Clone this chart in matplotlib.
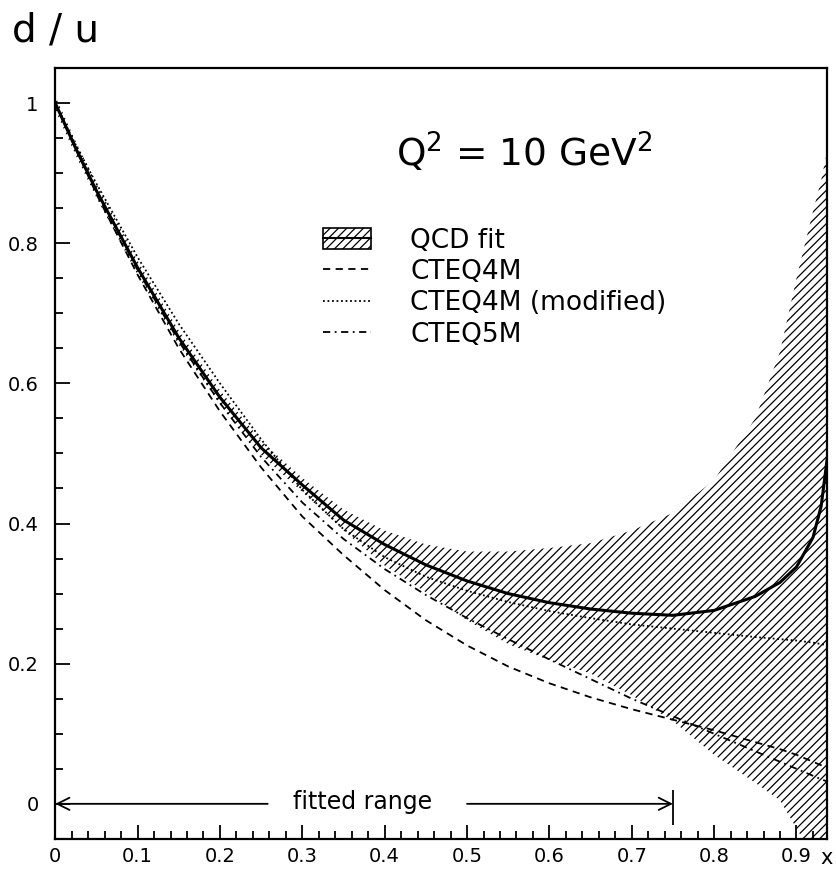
import matplotlib
matplotlib.use('Agg')
import matplotlib.pyplot as plt
from matplotlib.patches import Patch
from matplotlib.lines import Line2D
from matplotlib.ticker import MultipleLocator, FuncFormatter

# x grid
x = [0.0, 0.025, 0.05, 0.1, 0.15, 0.2, 0.25, 0.3, 0.35, 0.4, 0.45, 0.5, 0.55,
     0.6, 0.65, 0.7, 0.75, 0.8, 0.85, 0.88, 0.9, 0.92, 0.93, 0.937]

# QCD fit central value and error band
qcd = [1.0, 0.935, 0.875, 0.765, 0.665, 0.58, 0.508, 0.455, 0.405, 0.37, 0.341, 0.318, 0.300,
       0.287, 0.278, 0.272, 0.269, 0.276, 0.296, 0.316, 0.338, 0.38, 0.425, 0.49]
qcd_hi = [1.01, 0.945, 0.885, 0.775, 0.675, 0.59, 0.518, 0.465, 0.42, 0.39, 0.37, 0.36, 0.36,
          0.365, 0.372, 0.39, 0.415, 0.462, 0.55, 0.645, 0.75, 0.845, 0.89, 0.93]
qcd_lo = [0.99, 0.925, 0.865, 0.755, 0.655, 0.57, 0.498, 0.445, 0.39, 0.34, 0.302, 0.262, 0.228,
          0.205, 0.186, 0.155, 0.118, 0.07, 0.03, 0.005, -0.035, -0.075, -0.1, -0.12]

# parametrisations
cteq4m = [1.0, 0.935, 0.87, 0.755, 0.65, 0.56, 0.48, 0.41, 0.355, 0.305, 0.262, 0.226, 0.196,
          0.172, 0.152, 0.135, 0.12, 0.105, 0.088, 0.078, 0.07, 0.06, 0.055, 0.05]
cteq4m_mod = [1.0, 0.94, 0.885, 0.78, 0.685, 0.6, 0.52, 0.448, 0.392, 0.352, 0.324, 0.304, 0.288,
              0.275, 0.265, 0.256, 0.25, 0.244, 0.238, 0.235, 0.233, 0.23, 0.228, 0.226]
cteq5m = [1.0, 0.937, 0.875, 0.762, 0.66, 0.572, 0.495, 0.43, 0.378, 0.335, 0.298, 0.265, 0.235,
          0.206, 0.178, 0.15, 0.125, 0.1, 0.075, 0.06, 0.05, 0.04, 0.035, 0.032]

fit_range = [0.0, 0.75]

plt.rcParams['font.family'] = ['DejaVu Sans']
plt.rcParams['hatch.linewidth'] = 0.9

fig = plt.figure(figsize=(8.37, 8.72), dpi=100)
ax = fig.add_axes([0.066, 0.038, 0.922, 0.884])

# error band as hatched area
ax.fill_between(x, qcd_lo, qcd_hi, facecolor='none', edgecolor='black', hatch='////', linewidth=0)
ax.plot(x, qcd, color='black', lw=2.2)
ax.plot(x, cteq4m, color='black', lw=1.3, linestyle=(0, (4, 3)))
ax.plot(x, cteq4m_mod, color='black', lw=1.3, linestyle=(0, (1, 1.5)))
ax.plot(x, cteq5m, color='black', lw=1.3, linestyle=(0, (4, 2.5, 1, 2.5)))

ax.set_xlim(0, 0.937)
ax.set_ylim(-0.05, 1.05)

ax.xaxis.set_major_locator(MultipleLocator(0.1))
ax.xaxis.set_minor_locator(MultipleLocator(0.02))
ax.yaxis.set_major_locator(MultipleLocator(0.2))
ax.yaxis.set_minor_locator(MultipleLocator(0.05))
fmt = FuncFormatter(lambda v, p: '%g' % round(v, 2))
ax.xaxis.set_major_formatter(fmt)
ax.yaxis.set_major_formatter(fmt)
ax.tick_params(which='both', direction='in', top=False, right=False, width=1.3, labelsize=14)
ax.tick_params(axis='x', which='major', length=10, pad=6)
ax.tick_params(axis='x', which='minor', length=5.5)
ax.tick_params(axis='y', which='major', length=11, pad=12)
ax.tick_params(axis='y', which='minor', length=5.5)
for s in ax.spines.values():
    s.set_linewidth(1.6)

# labels
fig.text(0.014, 0.987, 'd / u', fontsize=28, va='top', ha='left')
ax.text(1.0, -0.012, 'x', transform=ax.transAxes, fontsize=15, ha='center', va='top')
ax.text(0.57, 0.93, 'Q$^2$ = 10 GeV$^2$', fontsize=27, ha='center', va='center')

# fitted range arrow
ax.annotate('', xy=(fit_range[0], 0), xytext=(0.258, 0),
            arrowprops=dict(arrowstyle='->', lw=1.3, mutation_scale=22, shrinkA=0, shrinkB=0))
ax.annotate('', xy=(fit_range[1], 0), xytext=(0.5, 0),
            arrowprops=dict(arrowstyle='->', lw=1.3, mutation_scale=22, shrinkA=0, shrinkB=0))
ax.vlines(fit_range[1], -0.03, 0.02, color='black', lw=1.3)
ax.text(0.373, 0.002, 'fitted range', fontsize=17, ha='center', va='center')

# legend
handles = [(Patch(facecolor='white', edgecolor='black', hatch='////', lw=1.2),
            Line2D([], [], color='black', lw=1.5)),
           Line2D([], [], color='black', lw=1.3, linestyle=(0, (4, 3))),
           Line2D([], [], color='black', lw=1.3, linestyle=(0, (1, 1.5))),
           Line2D([], [], color='black', lw=1.3, linestyle=(0, (4, 2.5, 1, 2.5)))]
labels = ['QCD fit', 'CTEQ4M', 'CTEQ4M (modified)', 'CTEQ5M']
ax.legend(handles, labels, loc='upper left', bbox_to_anchor=(0.33, 0.81), frameon=False,
          fontsize=19, handlelength=1.8, handleheight=0.8, handletextpad=1.5,
          labelspacing=0.2, borderpad=0)

fig.savefig('out.png', dpi=100)
